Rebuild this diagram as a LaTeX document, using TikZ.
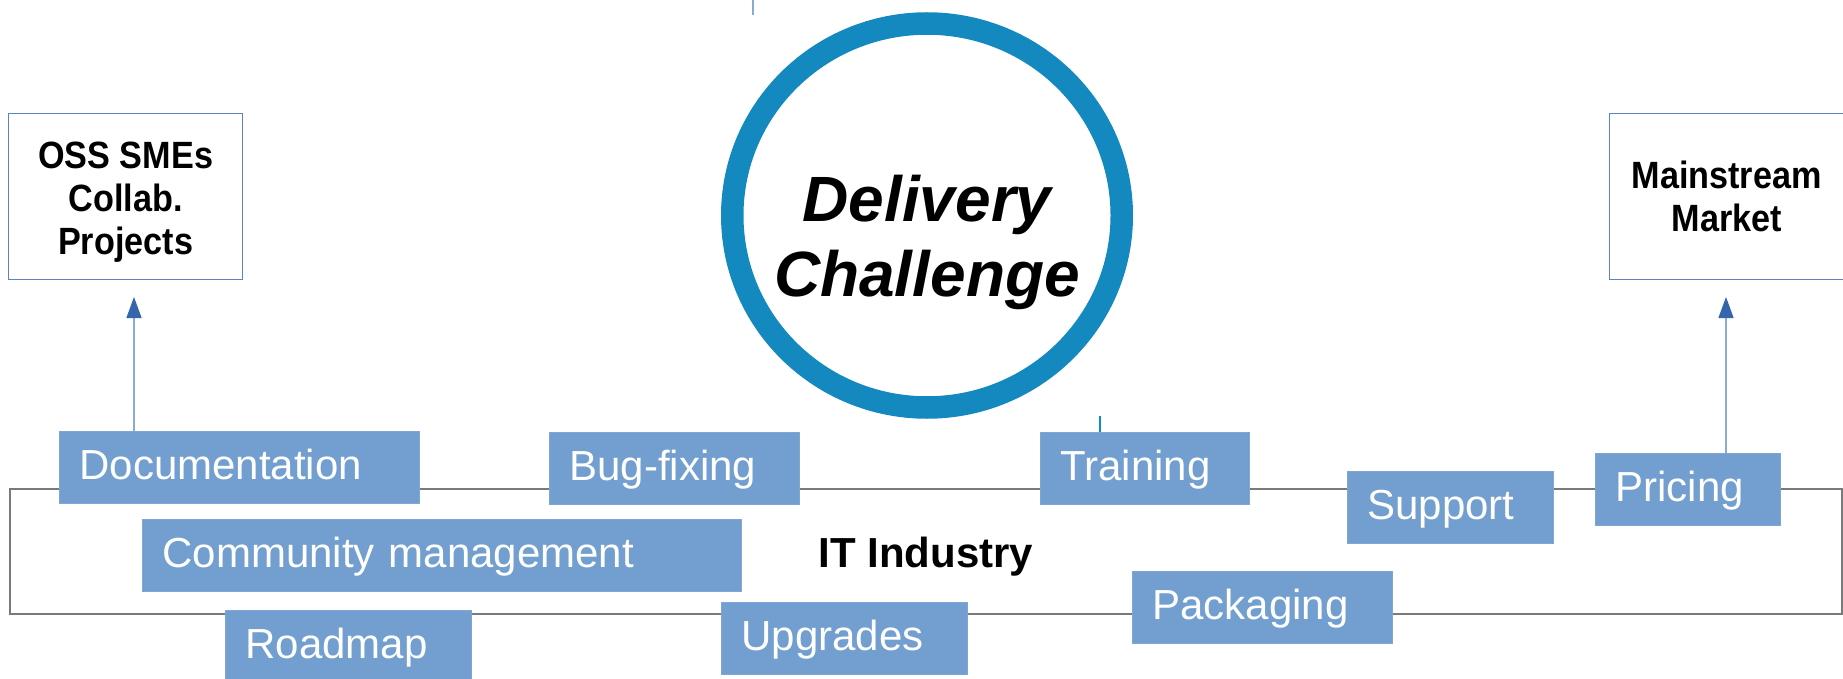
\documentclass[tikz,border=0pt]{standalone}
\usepackage{fontspec}
\setmainfont{Liberation Sans}
\newfontfamily\condbold[FakeStretch=0.9]{Liberation Sans Bold}
\usetikzlibrary{arrows.meta,shapes.geometric}
\definecolor{boxfill}{HTML}{729FCF}
\definecolor{boxedge}{HTML}{7EA7D6}
\definecolor{ringblue}{HTML}{1489C0}
\definecolor{framegray}{HTML}{7A7A7A}
\definecolor{outerbox}{HTML}{5B84C4}
\definecolor{arrline}{HTML}{8AAAD6}
\definecolor{arrhead}{HTML}{3565AC}
\tikzset{
  tag/.style={fill=boxfill, draw=boxedge, line width=0.8pt, anchor=north west,
    inner xsep=20pt, inner ysep=0pt, text width=#1, minimum height=72pt,
    text height=33pt, text depth=9pt, align=left, text=white,
    font=\fontsize{42}{50}\selectfont},
  endbox/.style={draw=outerbox, line width=1.3pt, fill=white, anchor=north west,
    minimum width=234pt, minimum height=166pt, inner sep=0pt, align=center,
    font=\condbold\fontsize{38}{43}\selectfont},
  arr/.style={draw=arrline, line width=1.5pt,
    -{Triangle[width=15pt,length=21pt,color=arrhead,fill=arrhead]}},
  title/.style={anchor=base, font=\bfseries\itshape\fontsize{64}{75}\selectfont},
}
\begin{document}
\begin{tikzpicture}[x=1pt,y=-1pt]
\useasboundingbox (0,0) rectangle (1843,679);
% industry frame
\node[draw=framegray, line width=2pt, anchor=north west, minimum width=1832pt,
  minimum height=125pt, inner sep=0pt] (frame) at (9,488) {};
% ring
\node[draw=ringblue, line width=22.5pt, ellipse, minimum width=389.5pt,
  minimum height=384pt, inner sep=0pt] (ring) at (927,215.5) {};
\node[title] (t1) at (927,221) {Delivery};
\node[title] (t2) at (927,296) {Challenge};
% stray marks
\coordinate (topA) at (753,0);
\coordinate (topB) at (753,15);
\draw[draw=arrline, line width=1.5pt] (topA) -- (topB);
% end boxes
\node[endbox] (oss) at (8,113) {\rule{0pt}{38pt}OSS SMEs\\Collab.\\Projects};
\node[endbox] (mkt) at (1609,113) {Mainstream\\Market};
% IT industry label
\node[anchor=base, font=\bfseries\fontsize{42}{50}\selectfont] (it) at (926,567) {IT Industry};
% tags
\node[tag=320pt] (doc) at (59,431) {Documentation};
\node[tag=559pt] (com) at (142,519) {Community management};
\node[tag=206pt] (road) at (225,610) {Roadmap};
\node[tag=210pt] (bug) at (549,432) {Bug-fixing};
\node[tag=206pt] (upg) at (721,602) {Upgrades};
\node[tag=169pt] (train) at (1040,432) {Training};
\node[tag=220pt] (pack) at (1132,571) {Packaging};
\node[tag=166pt] (sup) at (1347,471) {Support};
\node[tag=145pt] (price) at (1595,453) {Pricing};
% arrows
\coordinate (ossTip) at (134,297);
\coordinate (mktTip) at (1726,297);
\draw[arr] (doc.north -| ossTip) -- (ossTip);
\draw[arr] (price.north -| mktTip) -- (mktTip);
\coordinate (tick) at (1100,416);
\draw[draw=ringblue, line width=1.3pt] (train.north -| tick) -- (tick);
\end{tikzpicture}
\end{document}
